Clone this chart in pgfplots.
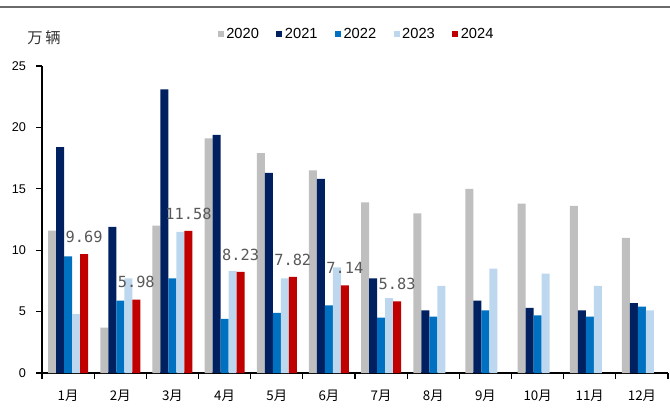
\documentclass[border=0pt]{standalone}
\usepackage{pgfplots}
\pgfplotsset{compat=1.18}
\usepackage{fontspec}
\setmainfont{Liberation Sans}
\newfontfamily\cjk{Noto Sans CJK SC}
\newfontfamily\lblfont{DejaVu Sans Mono}
\definecolor{c20}{HTML}{BFBFBF}
\definecolor{c21}{HTML}{002060}
\definecolor{c22}{HTML}{0070C0}
\definecolor{c23}{HTML}{BDD7EE}
\definecolor{c24}{HTML}{C00000}
\definecolor{lblgray}{HTML}{595959}
\begin{document}
\begin{tikzpicture}
\useasboundingbox (-31.5pt,-30.75pt) rectangle (471pt,279.75pt);
\draw[line width=2pt, color=lblgray!90] (-31.5pt,274.5pt) -- (471pt,274.5pt);
\node[font=\cjk\fontsize{11.5}{13}\selectfont, text=black!80] at (1.5pt,251.5pt) {万\,辆};
\begin{axis}[
    at={(0,0)}, anchor=south west,
    scale only axis, width=469.5pt, height=230.25pt,
    ybar=0pt, bar width=6pt,
    xmin=0.5, xmax=12.5, ymin=0, ymax=25,
    axis x line*=bottom, axis y line*=left,
    axis line style={line width=0.8pt, black},
    xtick={0.5,1.5,...,12.5},
    x tick label as interval,
    xticklabels={1月,2月,3月,4月,5月,6月,7月,8月,9月,10月,11月,12月},
    xticklabel style={font=\cjk\fontsize{10}{12}\selectfont, yshift=-5pt},
    ytick={0,5,...,25},
    yticklabel style={font=\fontsize{9.5}{11}\selectfont, xshift=-4pt},
    /pgf/number format/assume math mode=true,
    tick align=outside, major tick length=4.5pt,
    tick style={line width=0.8pt, black},
    clip=false,
    legend columns=-1,
    legend style={at={(axis description cs:0.503,1.104)}, anchor=center,
        draw=none, fill=none, inner sep=0pt,
        font=\fontsize{11}{13}\selectfont,
        /tikz/every even column/.append style={column sep=11pt}},
    legend image code/.code={\fill[#1] (0pt,-2.25pt) rectangle (4.5pt,2.25pt);},
]
\addplot[fill=c20, draw=none] coordinates {
 (1,11.6) (2,3.7) (3,12.0) (4,19.1) (5,17.9) (6,16.5) (7,13.9) (8,13.0) (9,15.0) (10,13.8) (11,13.6) (12,11.0)};
\addplot[fill=c21, draw=none] coordinates {
 (1,18.4) (2,11.9) (3,23.1) (4,19.4) (5,16.3) (6,15.8) (7,7.7) (8,5.1) (9,5.9) (10,5.3) (11,5.1) (12,5.7)};
\addplot[fill=c22, draw=none] coordinates {
 (1,9.5) (2,5.9) (3,7.7) (4,4.4) (5,4.9) (6,5.5) (7,4.5) (8,4.6) (9,5.1) (10,4.7) (11,4.6) (12,5.4)};
\addplot[fill=c23, draw=none] coordinates {
 (1,4.8) (2,7.7) (3,11.5) (4,8.3) (5,7.7) (6,8.6) (7,6.1) (8,7.1) (9,8.5) (10,8.1) (11,7.1) (12,5.1)};
\addplot[fill=c24, draw=none,
    nodes near coords, point meta=y,
    nodes near coords style={font=\lblfont\fontsize{11.5}{13}\selectfont, text=lblgray, yshift=5pt,
        /pgf/number format/.cd, fixed, fixed zerofill, precision=2, assume math mode=true}]
 coordinates {
 (1,9.69) (2,5.98) (3,11.58) (4,8.23) (5,7.82) (6,7.14) (7,5.83)};
\legend{2020,2021,2022,2023,2024}
\end{axis}
\end{tikzpicture}
\end{document}
